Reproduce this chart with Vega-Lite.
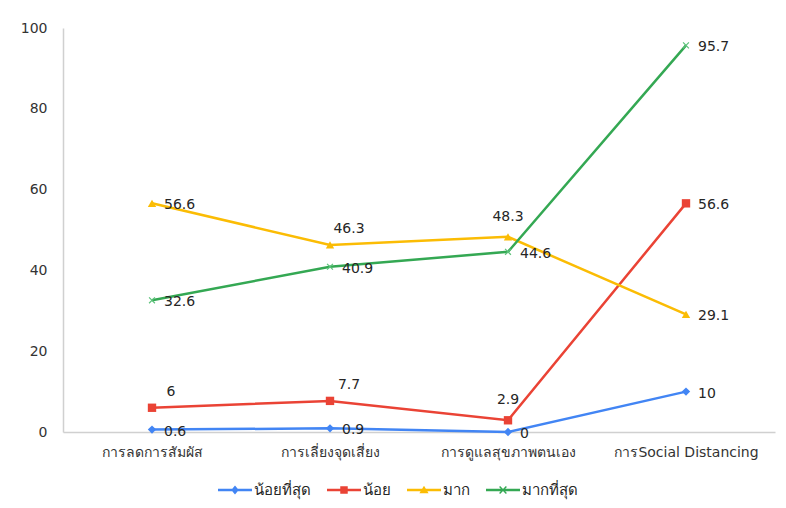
{
  "$schema": "https://vega.github.io/schema/vega-lite/v6.json",
  "width": 712,
  "height": 404,
  "autosize": "none",
  "padding": {"left": 63, "top": 28, "right": 11, "bottom": 76},
  "background": "white",
  "config": {
    "view": {"stroke": null},
    "font": "Tahoma, 'DejaVu Sans', sans-serif"
  },
  "data": {
    "values": [
      {"cat": "การลดการสัมผัส", "series": "น้อยที่สุด", "value": 0.6},
      {"cat": "การเลี่ยงจุดเสี่ยง", "series": "น้อยที่สุด", "value": 0.9},
      {"cat": "การดูแลสุขภาพตนเอง", "series": "น้อยที่สุด", "value": 0},
      {"cat": "การSocial  Distancing", "series": "น้อยที่สุด", "value": 10},
      {"cat": "การลดการสัมผัส", "series": "น้อย", "value": 6},
      {"cat": "การเลี่ยงจุดเสี่ยง", "series": "น้อย", "value": 7.7},
      {"cat": "การดูแลสุขภาพตนเอง", "series": "น้อย", "value": 2.9},
      {"cat": "การSocial  Distancing", "series": "น้อย", "value": 56.6},
      {"cat": "การลดการสัมผัส", "series": "มาก", "value": 56.6},
      {"cat": "การเลี่ยงจุดเสี่ยง", "series": "มาก", "value": 46.3},
      {"cat": "การดูแลสุขภาพตนเอง", "series": "มาก", "value": 48.3},
      {"cat": "การSocial  Distancing", "series": "มาก", "value": 29.1},
      {"cat": "การลดการสัมผัส", "series": "มากที่สุด", "value": 32.6},
      {"cat": "การเลี่ยงจุดเสี่ยง", "series": "มากที่สุด", "value": 40.9},
      {"cat": "การดูแลสุขภาพตนเอง", "series": "มากที่สุด", "value": 44.6},
      {"cat": "การSocial  Distancing", "series": "มากที่สุด", "value": 95.7}
    ]
  },
  "encoding": {
    "x": {
      "field": "cat",
      "type": "nominal",
      "sort": null,
      "scale": {"type": "point", "padding": 0.5, "domain": ["การลดการสัมผัส", "การเลี่ยงจุดเสี่ยง", "การดูแลสุขภาพตนเอง", "การSocial  Distancing"]},
      "axis": {"title": null, "labelAngle": 0, "ticks": false, "grid": false, "domainColor": "#d0d0d0", "domainWidth": 1.5, "labelPadding": 13, "labelFontSize": 14, "labelColor": "#333333"}
    },
    "y": {
      "field": "value",
      "type": "quantitative",
      "scale": {"domain": [0, 100]},
      "axis": {"title": null, "values": [0, 20, 40, 60, 80, 100], "ticks": false, "grid": false, "domainColor": "#d0d0d0", "domainWidth": 1.5, "labelPadding": 16, "labelFontSize": 14, "labelColor": "#333333"}
    }
  },
  "layer": [
    {
      "transform": [{"filter": "datum.series == 'น้อยที่สุด'"}],
      "mark": {"type": "line", "strokeWidth": 2.5, "color": "#4285f4"},
      "encoding": {}
    },
    {
      "transform": [{"filter": "datum.series == 'น้อย'"}],
      "mark": {"type": "line", "strokeWidth": 2.5, "color": "#ea4335"},
      "encoding": {}
    },
    {
      "transform": [{"filter": "datum.series == 'มาก'"}],
      "mark": {"type": "line", "strokeWidth": 2.5, "color": "#fbbc04"},
      "encoding": {}
    },
    {
      "transform": [{"filter": "datum.series == 'มากที่สุด'"}],
      "mark": {"type": "line", "strokeWidth": 2.5, "color": "#34a853"},
      "encoding": {}
    },
    {
      "transform": [{"filter": "datum.series == 'น้อยที่สุด'"}],
      "mark": {"type": "point", "filled": true, "opacity": 1, "size": 70, "shape": "diamond", "color": "#4285f4"}
    },
    {
      "transform": [{"filter": "datum.series == 'น้อย'"}],
      "mark": {"type": "point", "filled": true, "opacity": 1, "size": 70, "shape": "square", "color": "#ea4335"}
    },
    {
      "transform": [{"filter": "datum.series == 'มาก'"}],
      "mark": {"type": "point", "filled": true, "opacity": 1, "size": 70, "shape": "triangle-up", "color": "#fbbc04"}
    },
    {
      "transform": [{"filter": "datum.series == 'มากที่สุด'"}],
      "mark": {"type": "point", "filled": false, "shape": "M-0.7,-0.7L0.7,0.7M-0.7,0.7L0.7,-0.7", "color": "#5cc27a", "size": 70, "strokeWidth": 1.2, "opacity": 1}
    },
    {
      "transform": [{"filter": "datum.value < -1"}],
      "mark": {"type": "point", "filled": true, "opacity": 1},
      "encoding": {
        "color": {"field": "series", "type": "nominal", "scale": {"domain": ["น้อยที่สุด", "น้อย", "มาก", "มากที่สุด"], "range": ["#4285f4", "#ea4335", "#fbbc04", "#34a853"]},
          "legend": {"title": null, "orient": "none", "legendX": 155, "legendY": 445, "direction": "horizontal", "symbolSize": 1156, "symbolStrokeWidth": 0, "labelFontSize": 15, "labelColor": "#262626", "columnPadding": 16, "labelOffset": 2}},
        "shape": {"field": "series", "type": "nominal", "scale": {"domain": ["น้อยที่สุด", "น้อย", "มาก", "มากที่สุด"], "range": [
          "M-1,-0.07L1,-0.07L1,0.07L-1,0.07ZM0,-0.26L0.22,0L0,0.26L-0.22,0Z",
          "M-1,-0.07L1,-0.07L1,0.07L-1,0.07ZM-0.22,-0.22L0.22,-0.22L0.22,0.22L-0.22,0.22Z",
          "M-1,-0.07L1,-0.07L1,0.07L-1,0.07ZM0,-0.25L0.27,0.19L-0.27,0.19Z",
          "M-1,-0.07L1,-0.07L1,0.07L-1,0.07ZM-0.17,-0.23L0.23,0.17L0.17,0.23L-0.23,-0.17ZM-0.23,0.17L0.17,-0.23L0.23,-0.17L-0.17,0.23Z"
        ]},
          "legend": {"title": null, "orient": "none", "legendX": 155, "legendY": 445, "direction": "horizontal", "symbolSize": 1156, "symbolStrokeWidth": 0, "labelFontSize": 15, "labelColor": "#262626", "columnPadding": 16, "labelOffset": 2}}
      }
    },
    {
      "transform": [{"filter": "datum.series == 'น้อยที่สุด' || datum.series == 'มากที่สุด' || datum.cat == 'การSocial  Distancing' || (datum.series == 'มาก' && datum.cat == 'การลดการสัมผัส')"}],
      "mark": {"type": "text", "align": "left", "baseline": "middle", "dx": 12, "dy": 2, "fontSize": 14, "color": "#262626"},
      "encoding": {"text": {"field": "value", "type": "quantitative"}}
    },
    {
      "transform": [{"filter": "(datum.series == 'น้อย' && (datum.cat == 'การลดการสัมผัส' || datum.cat == 'การเลี่ยงจุดเสี่ยง')) || (datum.series == 'มาก' && datum.cat == 'การเลี่ยงจุดเสี่ยง')"}],
      "mark": {"type": "text", "align": "center", "baseline": "middle", "dx": 19, "dy": -16, "fontSize": 14, "color": "#262626"},
      "encoding": {"text": {"field": "value", "type": "quantitative"}}
    },
    {
      "transform": [{"filter": "(datum.series == 'น้อย' || datum.series == 'มาก') && datum.cat == 'การดูแลสุขภาพตนเอง'"}],
      "mark": {"type": "text", "align": "center", "baseline": "middle", "dx": 0, "dy": -20, "fontSize": 14, "color": "#262626"},
      "encoding": {"text": {"field": "value", "type": "quantitative"}}
    }
  ]
}
